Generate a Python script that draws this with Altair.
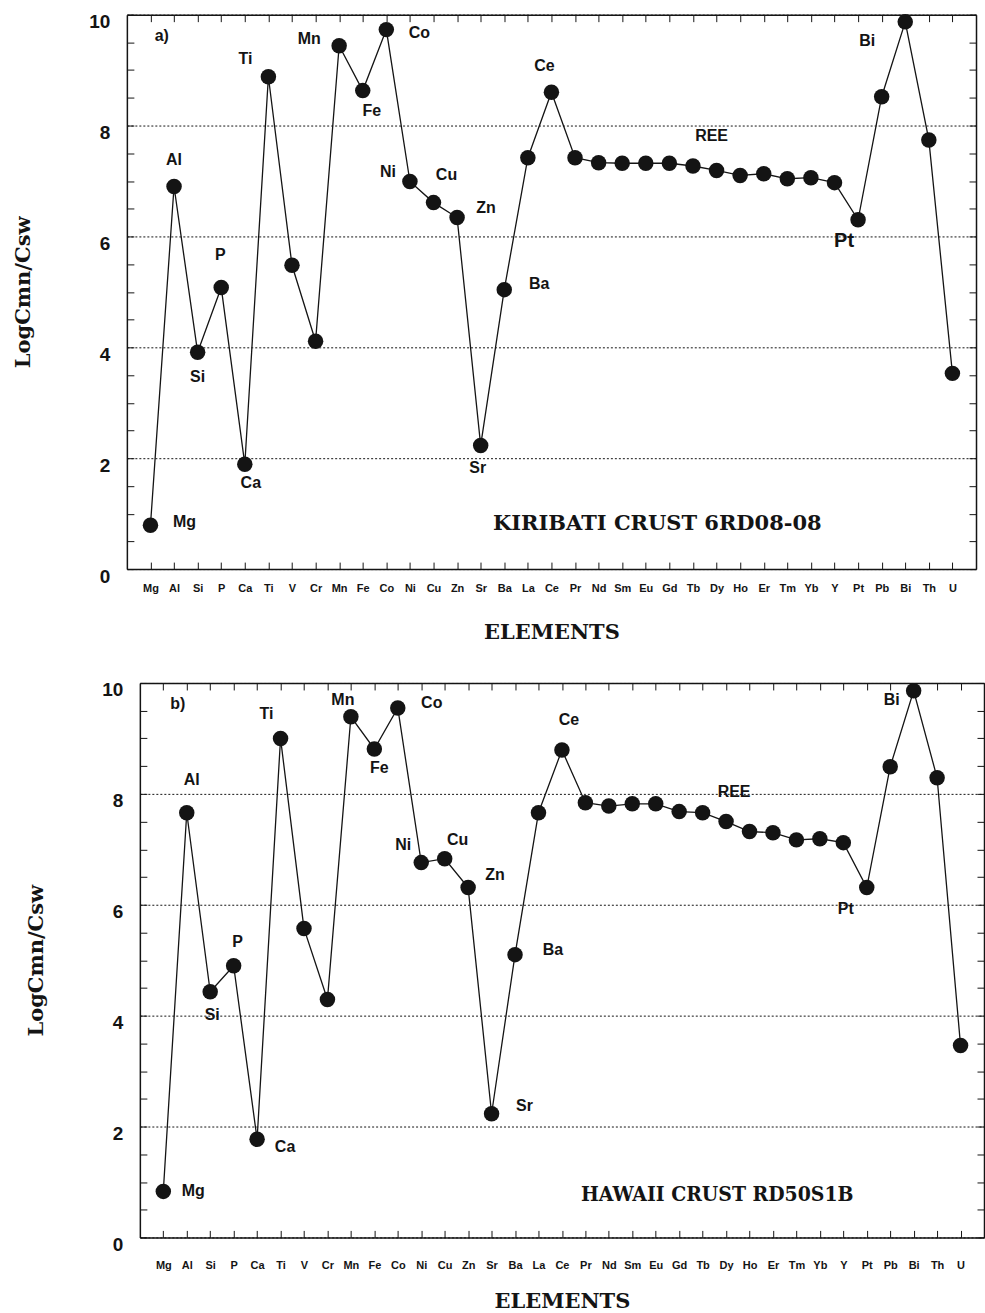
import altair as alt
import pandas as pd

# Elements along the x axis, in plotting order
elements = ["Mg", "Al", "Si", "P", "Ca", "Ti", "V", "Cr", "Mn", "Fe", "Co", "Ni", "Cu", "Zn",
            "Sr", "Ba", "La", "Ce", "Pr", "Nd", "Sm", "Eu", "Gd", "Tb", "Dy", "Ho", "Er", "Tm",
            "Yb", "Y", "Pt", "Pb", "Bi", "Th", "U"]

# log(C_mn / C_sw) enrichment factors
kiribati = [0.79, 6.90, 3.91, 5.08, 1.89, 8.88, 5.48, 4.11, 9.44, 8.63, 9.73, 6.99, 6.61, 6.34,
            2.23, 5.04, 7.42, 8.60, 7.42, 7.33, 7.32, 7.32, 7.32, 7.27, 7.19, 7.10, 7.13, 7.04,
            7.06, 6.97, 6.30, 8.52, 9.87, 7.74, 3.53]
hawaii = [0.83, 7.66, 4.43, 4.90, 1.77, 9.00, 5.57, 4.29, 9.39, 8.81, 9.55, 6.76, 6.83, 6.31,
          2.23, 5.10, 7.66, 8.79, 7.84, 7.78, 7.82, 7.82, 7.68, 7.66, 7.50, 7.32, 7.30, 7.17,
          7.19, 7.12, 6.31, 8.49, 9.86, 8.29, 3.46]

# Point annotations: anchor element, text, pixel offset (dx, dy), font size
labels_a = [("Mg", "Mg", 34, -3, 16), ("Al", "Al", 0, -27, 16), ("Si", "Si", 0, 25, 16),
            ("P", "P", -1, -32, 16), ("Ca", "Ca", 6, 19, 16), ("Ti", "Ti", -23, -18, 16),
            ("Mn", "Mn", -30, -7, 16), ("Fe", "Fe", 9, 20, 16), ("Co", "Co", 33, 3, 16),
            ("Ni", "Ni", -22, -10, 16), ("Cu", "Cu", 13, -28, 16), ("Zn", "Zn", 29, -10, 16),
            ("Sr", "Sr", -3, 23, 16), ("Ba", "Ba", 35, -6, 16), ("Ce", "Ce", -7, -26, 16),
            ("Dy", "REE", -5, -34, 16), ("Pt", "Pt", -14, 21, 20), ("Bi", "Bi", -38, 19, 16)]
labels_b = [("Mg", "Mg", 30, 0, 16), ("Al", "Al", 5, -33, 16), ("Si", "Si", 2, 23, 16),
            ("P", "P", 4, -24, 16), ("Ca", "Ca", 28, 8, 16), ("Ti", "Ti", -14, -24, 16),
            ("Mn", "Mn", -8, -17, 16), ("Fe", "Fe", 5, 19, 16), ("Co", "Co", 34, -5, 16),
            ("Ni", "Ni", -18, -18, 16), ("Cu", "Cu", 13, -19, 16), ("Zn", "Zn", 27, -13, 16),
            ("Sr", "Sr", 33, -8, 16), ("Ba", "Ba", 38, -5, 16), ("Ce", "Ce", 7, -30, 16),
            ("Dy", "REE", 8, -30, 16), ("Pt", "Pt", -21, 21, 16), ("Bi", "Bi", -22, 9, 16)]

INK = "#141414"
SANS = "Liberation Sans"
SERIF = "DejaVu Serif"
H = 555
FRAME_W = 1.5
minor_y = [i * 0.5 for i in range(21)]


def panel(values, labels, tag, tag_pos, sample, sample_font, sample_size, sample_pos,
          width, inset, xlab_pad, xtitle_pad, ytitle_pad):
    """One framed panel; the frame starts `inset` px right of the view origin."""
    df = pd.DataFrame({"el": elements, "v": values})
    base = alt.Chart(df)
    xs = alt.Scale(type="point", padding=1, range=[inset, width])
    ys = alt.Scale(domain=[0, 10], nice=False, zero=False)

    def X(axis):
        return alt.X("el:N", sort=elements, scale=xs, axis=axis)

    def Y(axis):
        return alt.Y("v:Q", scale=ys, axis=axis)

    main_x = alt.Axis(orient="bottom", title="ELEMENTS", labelAngle=0, labelFont=SANS,
                      labelFontSize=11, labelFontWeight="bold", labelColor=INK,
                      labelPadding=xlab_pad, ticks=False, domain=True, domainColor=INK,
                      domainWidth=FRAME_W, grid=False,
                      titleFont=SERIF, titleFontSize=21, titleFontWeight="bold",
                      titleColor=INK, titlePadding=xtitle_pad)
    main_y = alt.Axis(orient="left", offset=-inset, values=[0, 2, 4, 6, 8, 10], grid=True,
                      gridDash=[2, 2], gridColor=INK, gridWidth=1, ticks=False, domain=True,
                      domainColor=INK, domainWidth=FRAME_W, labelFont=SANS,
                      labelFontSize=19, labelFontWeight="bold", labelColor=INK,
                      labelPadding=17, labelOffset=7, title="LogCmn/Csw", titleFont=SERIF,
                      titleFontSize=21, titleFontWeight="bold", titleColor=INK,
                      titlePadding=ytitle_pad)

    def tick_axis(orient, offset, values=None):
        kw = dict(orient=orient, offset=offset, ticks=True, tickSize=7, tickColor=INK,
                  tickWidth=1, labels=False, domain=False, grid=False, title=None)
        if values is not None:
            kw["values"] = values
        return alt.Axis(**kw)

    def edge_axis(orient):
        return alt.Axis(orient=orient, ticks=False, labels=False, grid=False, title=None,
                        domain=True, domainColor=INK, domainWidth=FRAME_W)

    line = base.mark_line(color=INK, strokeWidth=1.3).encode(x=X(main_x), y=Y(main_y))
    dots = base.mark_circle(size=240, color=INK, opacity=1).encode(
        x=X(tick_axis("bottom", -7)), y=Y(tick_axis("left", -inset - 7, minor_y)))
    ticks_tr = base.mark_point(opacity=0).encode(
        x=X(tick_axis("top", -7)), y=Y(tick_axis("right", -7, minor_y)))
    edges = base.mark_point(opacity=0).encode(x=X(edge_axis("top")), y=Y(edge_axis("right")))

    layers = [line, dots, ticks_tr, edges]
    for el, txt, dx, dy, size in labels:
        layers.append(
            base.transform_filter(alt.datum.el == el)
            .mark_text(text=txt, dx=dx, dy=dy, font=SANS, fontSize=size, fontWeight="bold",
                       color=INK, align="center", baseline="middle")
            .encode(x=X(None), y=Y(None))
        )

    one = alt.Chart(pd.DataFrame({"k": [0]}))
    layers.append(one.mark_text(text=tag, font=SANS, fontSize=16, fontWeight="bold",
                                color=INK, align="center", baseline="middle")
                  .encode(x=alt.value(inset + tag_pos[0]), y=alt.value(tag_pos[1])))
    layers.append(one.mark_text(text=sample, font=sample_font, fontSize=sample_size,
                                fontWeight="bold", color=INK, align="center",
                                baseline="middle")
                  .encode(x=alt.value(inset + sample_pos[0]), y=alt.value(sample_pos[1])))
    # transparent rule that fixes the left margin of the panel
    layers.append(one.mark_rule(opacity=0, strokeWidth=1).encode(
        x=alt.value(-127), x2=alt.value(-127), y=alt.value(0), y2=alt.value(10)))

    return alt.layer(*layers).resolve_axis(x="independent", y="independent").properties(
        width=width, height=H)


panel_a = panel(kiribati, labels_a, "a)", (35, 21), "KIRIBATI  CRUST  6RD08-08",
                SERIF, 21, (531, 510), 850, 0, 13, 28, 55)
panel_b = panel(hawaii, labels_b, "b)", (38, 21), "HAWAII  CRUST  RD50S1B",
                "DejaVu Serif Condensed, Liberation Serif", 21, (578, 513), 858, 13, 22, 20, 55)

chart = alt.concat(panel_a, panel_b, columns=1, spacing=39).properties(
    padding={"left": 0, "right": 0, "top": 12, "bottom": 0}
).configure(background="white").configure_view(strokeWidth=0)

chart.save("out.html", embed_options={"renderer": "svg", "actions": False})
